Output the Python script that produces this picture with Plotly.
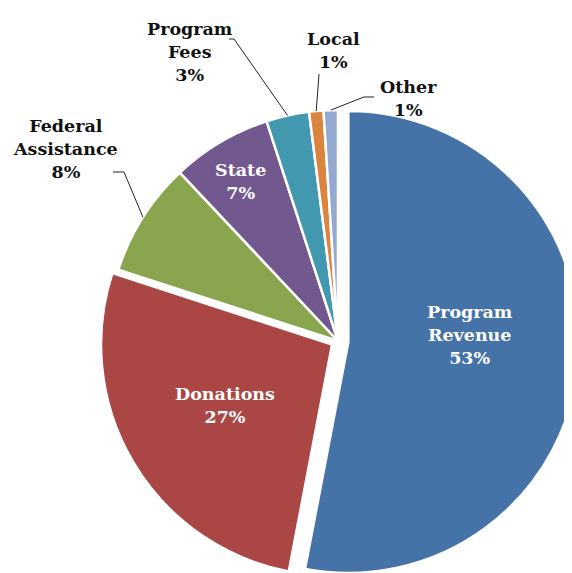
import math
import plotly.graph_objects as go

# ---- data ----
labels = ["Program Revenue", "Donations", "Federal Assistance", "State",
          "Program Fees", "Local", "Other"]
label_lines = ["Program<br>Revenue", "Donations", "Federal<br>Assistance", "State",
               "Program<br>Fees", "Local", "Other"]
values = [53, 27, 8, 7, 3, 1, 1]

# ---- style ----
colors = ["#4572A7", "#AA4643", "#89A54E", "#71588F", "#4198AF", "#DB843D", "#93A9CF"]
pulls = [0.045, 0.03, 0, 0, 0, 0, 0]
FONT = "DejaVu Serif"
FS = 17.5

OFF = 8            # page (body) margin in the browser
W, H = 600, 600    # figure size (window crops right/bottom)
FCX, FCY = 330, 333  # pie centre in figure pixels
RAD = 231
half = RAD * (1 + max(pulls))
dom_x = [(FCX - half) / W, (FCX + half) / W]
dom_y = [1 - (FCY + half) / H, 1 - (FCY - half) / H]
cx = W * (dom_x[0] + dom_x[1]) / 2
cy = H * (2 - dom_y[0] - dom_y[1]) / 2
R = min(W * (dom_x[1] - dom_x[0]), H * (dom_y[1] - dom_y[0])) / (2 + 2 * max(pulls))

total = sum(values)
cum = 0
mids = []
for v in values:
    mids.append(math.radians(360 * (cum + v / 2) / total))
    cum += v


def edge(i):
    """outer-edge point of slice i on its bisector (figure pixels)"""
    t = mids[i]
    x0 = cx + pulls[i] * R * math.sin(t)
    y0 = cy - pulls[i] * R * math.cos(t)
    return x0 + R * math.sin(t), y0 - R * math.cos(t)


def fig_paper(x, y):
    return x / W, 1 - y / H


def win_paper(x, y):
    return fig_paper(x - OFF, y - OFF)


def pct(i):
    return f"{round(100 * values[i] / total)}%"


fig = go.Figure(go.Pie(
    labels=labels, values=values, sort=False, direction="clockwise", rotation=0,
    pull=pulls, textinfo="none", hoverinfo="label+percent",
    marker=dict(colors=colors, line=dict(color="white", width=2.5)),
    domain=dict(x=dom_x, y=dom_y), showlegend=False,
))

annotations = []
# inside labels: text centre (window pixel layout positions)
inside = {0: (470, 335), 1: (225, 405), 3: (240, 181)}
for i, tpos in inside.items():
    x, y = win_paper(*tpos)
    annotations.append(dict(
        x=x, y=y, xref="paper", yref="paper", showarrow=False,
        xanchor="center", yanchor="middle",
        text=f"{label_lines[i]}<br>{pct(i)}", align="center",
        font=dict(family=FONT, size=FS, color="white", weight="bold")))

# outside labels: text centre and leader bend points (window pixel layout positions)
outside = {
    2: ((65, 149), [(124, 172), (113, 172)]),
    4: ((190, 52), [(234, 39), (229, 39)]),
    5: ((333, 51), [(319, 74)]),
    6: ((408, 99), [(364, 97), (374, 97)]),
}
shapes = []
for i, (tpos, leader) in outside.items():
    x, y = win_paper(*tpos)
    annotations.append(dict(
        x=x, y=y, xref="paper", yref="paper", showarrow=False,
        xanchor="center", yanchor="middle",
        text=f"{label_lines[i]}<br>{pct(i)}", align="center",
        font=dict(family=FONT, size=FS, color="#111111", weight="bold")))
    pts = [fig_paper(*edge(i))] + [win_paper(a, b) for a, b in leader]
    path = "M " + " L ".join(f"{a:.5f},{b:.5f}" for a, b in pts)
    shapes.append(dict(type="path", path=path, xref="paper", yref="paper",
                       line=dict(color="#222222", width=1)))

fig.update_layout(
    width=W, height=H,
    margin=dict(l=0, r=0, t=0, b=0),
    paper_bgcolor="white", plot_bgcolor="white",
    annotations=annotations, shapes=shapes,
)

fig.write_html("out.html")
